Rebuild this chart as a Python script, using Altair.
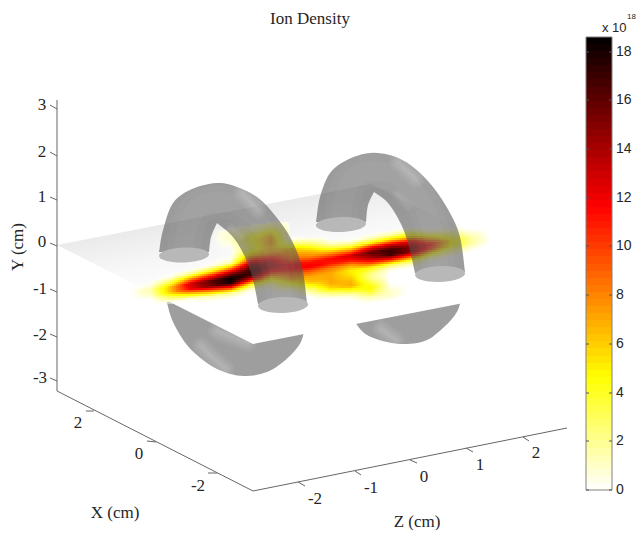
import math
import altair as alt
import pandas as pd

alt.data_transformers.disable_max_rows()

# ---------- values (picture pixel coordinates) ----------
TITLE = "Ion Density"
PLANE = [(57, 245), (253, 344), (567, 283), (371, 184)]

LEFT_OUTER = [(159, 252), (163, 230), (173, 203), (192, 189), (217, 183), (237, 187), (257, 197), (273, 213), (290, 237), (302, 267), (307, 304)]
LEFT_INNER_A = [(209, 252), (211, 237), (217, 223)]
LEFT_INNER_B = [(217, 223), (233, 237), (245, 257), (253, 280), (258, 304)]
RIGHT_OUTER = [(316, 222), (320, 197), (330, 173), (347, 160), (370, 153), (393, 156), (413, 167), (433, 187), (450, 213), (460, 237), (465, 272)]
RIGHT_INNER_A = [(366, 222), (368, 205), (374, 192)]
RIGHT_INNER_B = [(374, 192), (388, 203), (400, 222), (408, 243), (415, 273)]
LOWER_LEFT = [(165, 298), (167, 303), (173, 322), (187, 345), (207, 363), (227, 373), (247, 376), (267, 372), (283, 362), (297, 348), (303, 336), (305, 320)]
LOWER_RIGHT = [(354, 318), (357, 325), (367, 335), (387, 342), (407, 344), (427, 340), (443, 328), (455, 315), (460, 304), (462, 292)]
CAPS = [(184, 255, 25, 7.5), (283, 305, 25, 8), (341, 224.5, 25, 7.5), (440, 274, 25, 8)]

CENTER_LEFT = [(184, 252), (187, 228), (198, 208), (217, 202), (240, 206), (258, 222), (271, 245), (279, 272), (283, 300)]
CENTER_RIGHT = [(341, 221), (344, 197), (355, 177), (373, 171), (396, 175), (414, 191), (427, 214), (435, 241), (439, 269)]
HIGHLIGHTS = [
    [(242, 193), (250, 201), (258, 210)],
    [(398, 162), (407, 170), (416, 179)],
    [(232, 229), (240, 236)],
    [(398, 195), (408, 205)],
    [(201, 346), (213, 358), (226, 369)],
    [(217, 331), (232, 337), (248, 343)],
    [(381, 329), (389, 335), (396, 340)],
]

AXES = [[(57, 100), (57, 391)], [(57, 391), (253, 491)], [(253, 491), (567, 428)]]
TICK_SEGMENTS = [
    [(50, 105), (57, 109)], [(50, 152), (57, 156)], [(50, 197), (57, 200)], [(50, 243), (57, 246)],
    [(50, 289), (57, 292)], [(50, 334), (57, 337)], [(50, 378), (57, 381)],
    [(86, 411), (94, 411)], [(147, 441), (156, 442)], [(208, 473), (217, 473)],
    [(298, 482), (305, 486)], [(355, 471), (361, 475)], [(410, 460), (417, 463)],
    [(466, 448), (473, 452)], [(523, 437), (529, 441)],
]
Y_LABELS = [("3", 42, 105), ("2", 42, 152), ("1", 42, 197), ("0", 42, 242), ("-1", 40, 289), ("-2", 40, 335), ("-3", 40, 378)]
X_LABELS = [("2", 78, 423), ("0", 139, 454), ("-2", 198, 486)]
Z_LABELS = [("-2", 315, 499), ("-1", 371, 488), ("0", 424, 477), ("1", 480, 465), ("2", 536, 453)]

CBAR_X = (586, 612)
CBAR_Y = (490, 37)
CBAR_MAX = 18.6
CBAR_TICKS = [0, 2, 4, 6, 8, 10, 12, 14, 16, 18]

# density columns: x -> (first offset below ridge line, values at 5 px steps)
DENSITY_X = [130, 150, 170, 190, 210, 230, 250, 270, 290, 310, 330, 350, 370, 390, 410, 430, 450, 470, 490]
DENSITY_D0 = [-5, -10, -15, -15, -20, -50, -50, -50, -35, -30, -25, -25, -25, -25, -25, -20, -20, -15, -5]
DENSITY_V = [
    [0, 0.2, 0],
    [0, 0.5, 1.5, 1.0, 0],
    [0, 0.5, 3, 6.5, 6.5, 3, 0.3, 0],
    [0, 2, 8, 13, 12, 5.5, 0.5, 0],
    [0, 0.5, 4.5, 11, 16, 15.5, 8, 1.5, 0.2, 0],
    [0.5, 1, 1, 0.6, 0.2, 0.1, 0.3, 1.5, 8, 14, 18.5, 18, 10, 2, 0.3, 0],
    [0.5, 1.5, 3.5, 4, 3, 3.5, 6, 10.5, 15, 17, 17, 11, 3.5, 0.5, 0],
    [1, 2.5, 5, 7, 7.5, 6.5, 7, 10.5, 13.5, 14, 11, 6, 2.5, 0.5, 0],
    [0, 0.5, 3, 6.5, 7.5, 9, 11.5, 11.5, 9, 7, 4, 1, 0],
    [0, 1.5, 4, 6.5, 8, 11, 12, 9, 7, 6.5, 4, 1.5, 0.2, 0],
    [0, 1, 4, 8, 11.5, 11, 8, 7, 7, 7, 5.5, 2, 0.2, 0],
    [0, 0.3, 3, 8, 13, 11, 7, 5, 5.5, 6.5, 7, 4, 0.8, 0],
    [0, 1, 4.5, 12, 16, 14, 10, 4.5, 2.5, 2, 3.5, 5, 3.5, 1.2, 0.2],
    [0, 1.5, 6, 13, 17, 17, 10.5, 3, 0.4, 0, 0, 0.2, 0.8, 1, 0.3],
    [0, 2, 6, 12, 15, 15, 9, 2.5, 0.3, 0],
    [0, 2.5, 7, 11.5, 10, 4.5, 1, 0],
    [0, 1, 3, 5, 4.5, 2, 0.4, 0],
    [0, 0.8, 1.8, 1.8, 0.7, 0],
    [0, 0.2, 0],
]


# ---------- helpers ----------
def ridge(x):
    return 290.3 - 0.146 * (x - 140)


def hot_reversed(v):
    t = 1 - min(max(v / CBAR_MAX, 0), 1)
    r = min(t / 0.375, 1)
    g = min(max((t - 0.375) / 0.375, 0), 1)
    b = min(max((t - 0.75) / 0.25, 0), 1)
    return "#%02x%02x%02x" % (round(r * 255), round(g * 255), round(b * 255))


def smooth(points, n=6):
    pts = [points[0]] + list(points) + [points[-1]]
    out = []
    for i in range(1, len(pts) - 2):
        p0, p1, p2, p3 = pts[i - 1], pts[i], pts[i + 1], pts[i + 2]
        for k in range(n):
            t = k / n
            out.append(tuple(
                0.5 * (2 * p1[c] + (p2[c] - p0[c]) * t + (2 * p0[c] - 5 * p1[c] + 4 * p2[c] - p3[c]) * t * t
                       + (3 * p1[c] - p0[c] - 3 * p2[c] + p3[c]) * t ** 3)
                for c in (0, 1)))
    out.append(tuple(points[-1]))
    return out


def ellipse(cx, cy, a, b, n=40, tilt=-0.035):
    out = []
    for i in range(n):
        th = 2 * math.pi * i / n
        x, y = a * math.cos(th), b * math.sin(th)
        out.append((cx + x * math.cos(tilt) - y * math.sin(tilt), cy + x * math.sin(tilt) + y * math.cos(tilt)))
    return out


def density(x, y):
    if x < DENSITY_X[0] or x >= DENSITY_X[-1]:
        return 0.0
    i = (x - DENSITY_X[0]) // 20
    fx = (x - DENSITY_X[i]) / 20
    d = y - ridge(x)

    def col(j):
        q = (d - DENSITY_D0[j]) / 5
        vals = DENSITY_V[j]
        if q < 0 or q >= len(vals) - 1:
            return 0.0
        k = int(q)
        return vals[k] + (vals[k + 1] - vals[k]) * (q - k)

    return col(i) * (1 - fx) + col(i + 1) * fx


H = 522
X_SCALE = alt.Scale(domain=[8, 636], range=[0, 628], nice=False, zero=False)
Y_SCALE = alt.Scale(domain=[8, 8 + H], range=[0, H], nice=False, zero=False)
XE = alt.X("x:Q", scale=X_SCALE, axis=None)
YE = alt.Y("y:Q", scale=Y_SCALE, axis=None)


def path_df(points):
    return pd.DataFrame({"x": [p[0] for p in points], "y": [p[1] for p in points], "i": range(len(points))})


def polygon(points, **kw):
    return alt.Chart(path_df(points)).mark_line(interpolate="linear-closed", strokeWidth=0, strokeOpacity=0, **kw).encode(
        x=XE, y=YE, order=alt.Order("i:Q"))


def stroke(points, **kw):
    return alt.Chart(path_df(points)).mark_line(**kw).encode(x=XE, y=YE, order=alt.Order("i:Q"))


def texts(items, **kw):
    df = pd.DataFrame(items, columns=["t", "x", "y"])
    return alt.Chart(df).mark_text(baseline="middle", **kw).encode(x=XE, y=YE, text="t:N")


def glow(points, widths=(18, 14, 10, 6, 3), op=0.05):
    return [stroke(smooth(points) if len(points) > 2 else points, stroke="white", strokeWidth=w, opacity=op, strokeCap="round")
            for w in widths]


layers = []

# lower arcs (hidden by the plane where they pass behind it)
LOWER_FILL = "#9e9e9e"
layers.append(polygon(smooth(LOWER_LEFT) + [(250, 320)], fill=LOWER_FILL))
layers.append(polygon(smooth(LOWER_RIGHT) + [(410, 300)], fill=LOWER_FILL))
for h in HIGHLIGHTS[4:]:
    layers += glow(h)

# plane
layers.append(polygon(PLANE, fill=alt.Gradient(
    gradient="linear", x1=0, y1=0.3, x2=0.35, y2=0.9,
    stops=[alt.GradientStop(offset=0, color="#e6e6e6"),
           alt.GradientStop(offset=0.4, color="#f8f8f8"),
           alt.GradientStop(offset=0.7, color="#ffffff")])))

# density on the plane
rows = []
for px in range(130, 490, 2):
    for py in range(222, 304, 2):
        v = density(px, py)
        if v > 0.05:
            rows.append({"x": px, "x2": px + 2, "y": py, "y2": py + 2, "c": hot_reversed(v), "o": min(1, v / 0.5)})
layers.append(alt.Chart(pd.DataFrame(rows)).mark_rect(strokeWidth=0).encode(
    x=XE, x2="x2:Q", y=YE, y2="y2:Q",
    fill=alt.Fill("c:N", scale=None), opacity=alt.Opacity("o:Q", scale=None)))

# tubes above the plane
TUBE = dict(fill="#555555", fillOpacity=0.58)
arch_left = smooth(LEFT_OUTER) + smooth(LEFT_INNER_B)[::-1] + smooth(LEFT_INNER_A)[::-1]
arch_right = smooth(RIGHT_OUTER) + smooth(RIGHT_INNER_B)[::-1] + smooth(RIGHT_INNER_A)[::-1]
layers.append(polygon(arch_left, **TUBE))
layers.append(polygon(arch_right, **TUBE))
for c in (CENTER_LEFT, CENTER_RIGHT):
    layers.append(stroke(smooth(c), stroke="white", strokeWidth=34, opacity=0.03))
    layers.append(stroke(smooth(c), stroke="white", strokeWidth=20, opacity=0.03))
for h in HIGHLIGHTS[:2]:
    layers += glow(h)
for h in HIGHLIGHTS[2:4]:
    layers += glow(h, widths=(12, 8, 4), op=0.04)
for cap in CAPS:
    layers.append(polygon(ellipse(*cap), fill="#b8b8b8"))

# axes
for seg in AXES + TICK_SEGMENTS:
    layers.append(stroke(seg, stroke="#666666", strokeWidth=1))

SERIF = dict(font="Liberation Serif", color="#262626", fontSize=17)
layers.append(texts(Y_LABELS + X_LABELS + Z_LABELS, **SERIF))
layers.append(texts([(TITLE, 310, 19), ("X (cm)", 115, 513), ("Z (cm)", 417, 522)], **SERIF))
layers.append(texts([("Y (cm)", 18, 247)], angle=270, **SERIF))

# colour bar
n = 64
bar = pd.DataFrame([{
    "x": CBAR_X[0], "x2": CBAR_X[1],
    "y": round(CBAR_Y[0] + (CBAR_Y[1] - CBAR_Y[0]) * k / n),
    "y2": round(CBAR_Y[0] + (CBAR_Y[1] - CBAR_Y[0]) * (k + 1) / n),
    "c": hot_reversed((k + 0.5) / n * CBAR_MAX)} for k in range(n)])
layers.append(alt.Chart(bar).mark_rect(strokeWidth=0).encode(
    x=XE, x2="x2:Q", y=YE, y2="y2:Q", fill=alt.Fill("c:N", scale=None)))
layers.append(stroke([(CBAR_X[0], CBAR_Y[0]), (CBAR_X[1], CBAR_Y[0]), (CBAR_X[1], CBAR_Y[1]), (CBAR_X[0], CBAR_Y[1]), (CBAR_X[0], CBAR_Y[0])],
                     stroke="#808080", strokeWidth=1))
per = (CBAR_Y[0] - CBAR_Y[1]) / CBAR_MAX
cb_labels = []
for v in CBAR_TICKS:
    yy = round(CBAR_Y[0] - v * per)
    layers.append(stroke([(CBAR_X[0], yy), (CBAR_X[0] + 3, yy)], stroke="#555555", strokeWidth=1))
    layers.append(stroke([(CBAR_X[1] - 3, yy), (CBAR_X[1], yy)], stroke="#555555", strokeWidth=1))
    cb_labels.append((str(v), CBAR_X[1] + 4, yy))
SANS = dict(font="Liberation Sans", color="#262626")
layers.append(texts(cb_labels, align="left", fontSize=14, **SANS))
layers.append(texts([("x 10", 602, 28)], align="left", fontSize=13, **SANS))
layers.append(texts([("18", 627, 17)], align="left", fontSize=8, **SANS))

chart = alt.layer(*layers).properties(
    width=628, height=H,
    padding={"left": 0, "top": 0, "right": 0, "bottom": 0},
    autosize=alt.AutoSizeParams(type="none"),
    background="white",
).configure_view(stroke=None)

chart.save("out.html", embed_options={"renderer": "svg", "actions": False})
